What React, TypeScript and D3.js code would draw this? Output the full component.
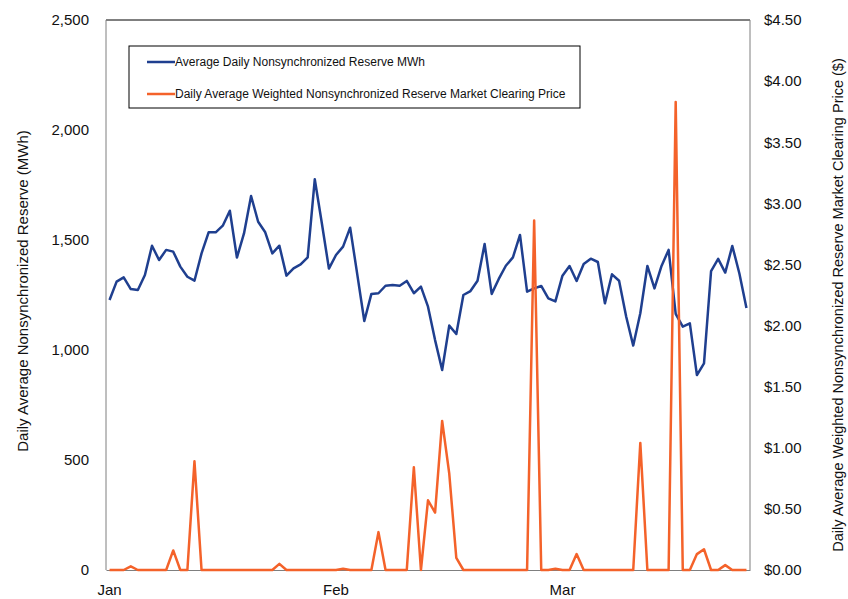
import { useEffect, useRef } from "react";
import * as d3 from "d3";

// Q1 of a leap year: Jan 1 .. Mar 31 (91 days)
const days = d3.timeDay.range(new Date(2020, 0, 1), new Date(2020, 3, 1));

// Average daily nonsynchronized reserve (MWh), one value per day
const reserveMWh = [
  1227, 1311, 1330, 1277, 1273, 1341, 1474, 1409, 1455, 1447,
  1379, 1333, 1315, 1439, 1535, 1535, 1565, 1633, 1420, 1530,
  1700, 1583, 1535, 1439, 1474, 1338, 1371, 1389, 1421, 1776,
  1576, 1370, 1432, 1470, 1556, 1345, 1132, 1255, 1258, 1292,
  1295, 1292, 1314, 1258, 1288, 1197, 1045, 909, 1111, 1073,
  1250, 1268, 1315, 1482, 1255, 1323, 1383, 1421, 1523, 1265,
  1280, 1291, 1235, 1221, 1338, 1382, 1314, 1391, 1415, 1400,
  1212, 1344, 1315, 1152, 1020, 1167, 1382, 1280, 1382, 1455,
  1164, 1106, 1121, 886, 939, 1359, 1414, 1352, 1473, 1348,
  1191,
];

// Daily average weighted market clearing price ($)
const clearingPrice = [
  0, 0, 0, 0.03, 0, 0, 0, 0, 0, 0.16,
  0, 0, 0.89, 0, 0, 0, 0, 0, 0, 0,
  0, 0, 0, 0, 0.05, 0, 0, 0, 0, 0,
  0, 0, 0, 0.01, 0, 0, 0, 0, 0.31, 0,
  0, 0, 0, 0.84, 0, 0.57, 0.47, 1.22, 0.79, 0.1,
  0, 0, 0, 0, 0, 0, 0, 0, 0, 0,
  2.86, 0, 0, 0.01, 0, 0, 0.13, 0, 0, 0,
  0, 0, 0, 0, 0, 1.04, 0, 0, 0, 0,
  3.83, 0, 0, 0.13, 0.17, 0, 0, 0.04, 0, 0,
  0,
];

// category-axis labels appear every 32 days
const xTickIndex = [0, 32, 64];
const leftTicks = [0, 500, 1000, 1500, 2000, 2500];
const rightTicks = [0, 0.5, 1, 1.5, 2, 2.5, 3, 3.5, 4, 4.5];

const seriesNames = [
  "Average Daily Nonsynchronized Reserve MWh",
  "Daily Average Weighted Nonsynchronized Reserve Market Clearing Price",
];
const leftTitle = "Daily Average Nonsynchronized Reserve (MWh)";
const rightTitle =
  "Daily Average Weighted Nonsynchronized Reserve Market Clearing Price ($)";

const BLUE = "#1f3f8f";
const ORANGE = "#f4622a";
const FONT = "'Liberation Sans', Arial, sans-serif";

const ReserveChart = () => {
  const svgRef = useRef<SVGSVGElement | null>(null);

  useEffect(() => {
    const svg = d3.select(svgRef.current);
    svg.selectAll("*").remove();

    const width = 848;
    const height = 599;
    const margin = { top: 20, right: 98, bottom: 29, left: 106 };
    const x0 = margin.left;
    const x1 = width - margin.right;
    const y0 = height - margin.bottom;
    const y1 = margin.top;

    svg.attr("viewBox", `0 0 ${width} ${height}`);
    svg
      .append("rect")
      .attr("width", width)
      .attr("height", height)
      .attr("fill", "#fff");

    const xScale = d3
      .scaleBand<number>()
      .domain(days.map((_, i) => i))
      .range([x0, x1]);
    const xMid = (i: number) => (xScale(i) ?? 0) + xScale.bandwidth() / 2;

    const yLeft = d3.scaleLinear().domain([0, 2500]).range([y0, y1]);
    const yRight = d3.scaleLinear().domain([0, 4.5]).range([y0, y1]);

    // frame
    g_line(svg, x0, y1, x1, y1, "#000");
    g_line(svg, x0, y1, x0, y0, "#7f7f7f");
    g_line(svg, x1, y1, x1, y0, "#7f7f7f");

    const fmtMonth = d3.timeFormat("%b");
    const xAxis = d3
      .axisBottom(xScale)
      .tickValues(xTickIndex)
      .tickSize(0)
      .tickPadding(14)
      .tickFormat((i) => fmtMonth(days[i as number]));
    svg
      .append("g")
      .attr("transform", `translate(0,${y0})`)
      .call(xAxis)
      .call((g) => g.select(".domain").attr("stroke", "#7f7f7f"))
      .selectAll("text")
      .attr("font-family", FONT)
      .attr("font-size", 15)
      .attr("fill", "#111");

    const leftAxis = d3
      .axisLeft(yLeft)
      .tickValues(leftTicks)
      .tickSize(0)
      .tickPadding(17)
      .tickFormat((d) => d3.format(",")(d as number));
    svg
      .append("g")
      .attr("transform", `translate(${x0},0)`)
      .call(leftAxis)
      .call((g) => g.select(".domain").remove())
      .selectAll("text")
      .attr("font-family", FONT)
      .attr("font-size", 15)
      .attr("fill", "#111");

    const rightAxis = d3
      .axisRight(yRight)
      .tickValues(rightTicks)
      .tickSize(0)
      .tickPadding(14)
      .tickFormat((d) => d3.format("$.2f")(d as number));
    svg
      .append("g")
      .attr("transform", `translate(${x1},0)`)
      .call(rightAxis)
      .call((g) => g.select(".domain").remove())
      .selectAll("text")
      .attr("font-family", FONT)
      .attr("font-size", 15)
      .attr("fill", "#111");

    // axis titles
    svg
      .append("text")
      .attr("transform", `translate(23,${(y0 + y1) / 2 - 4}) rotate(-90)`)
      .attr("text-anchor", "middle")
      .attr("dy", "0.35em")
      .attr("font-family", FONT)
      .attr("font-size", 15)
      .attr("fill", "#111")
      .text(leftTitle);
    svg
      .append("text")
      .attr("transform", `translate(838,${(y0 + y1) / 2 + 10}) rotate(-90)`)
      .attr("text-anchor", "middle")
      .attr("dy", "0.35em")
      .attr("font-family", FONT)
      .attr("font-size", 14.5)
      .attr("fill", "#111")
      .text(rightTitle);

    const lineLeft = d3
      .line<number>()
      .x((_, i) => xMid(i))
      .y((d) => yLeft(d));
    const lineRight = d3
      .line<number>()
      .x((_, i) => xMid(i))
      .y((d) => yRight(d));

    svg
      .append("path")
      .datum(reserveMWh)
      .attr("fill", "none")
      .attr("stroke", BLUE)
      .attr("stroke-width", 2.5)
      .attr("stroke-linejoin", "round")
      .attr("d", lineLeft);

    svg
      .append("path")
      .datum(clearingPrice)
      .attr("fill", "none")
      .attr("stroke", ORANGE)
      .attr("stroke-width", 2.5)
      .attr("stroke-linejoin", "round")
      .attr("d", lineRight);

    // legend
    const legend = svg.append("g").attr("transform", "translate(129,46)");
    legend
      .append("rect")
      .attr("width", 451)
      .attr("height", 62)
      .attr("fill", "#fff")
      .attr("stroke", "#000")
      .attr("stroke-width", 1);
    [BLUE, ORANGE].forEach((c, k) => {
      const ly = 16 + k * 32;
      legend
        .append("line")
        .attr("x1", 18)
        .attr("x2", 46)
        .attr("y1", ly)
        .attr("y2", ly)
        .attr("stroke", c)
        .attr("stroke-width", 2.5);
      legend
        .append("text")
        .attr("x", 46)
        .attr("y", ly)
        .attr("dy", "0.35em")
        .attr("font-family", FONT)
        .attr("font-size", 12)
        .attr("fill", "#111")
        .text(seriesNames[k]);
    });
  }, []);

  return (
    <svg
      ref={svgRef}
      role="img"
      aria-label="Nonsynchronized reserve chart"
      width={848}
      height={599}
      style={{ position: "absolute", left: 0, top: 0 }}
    />
  );
};

function g_line(
  svg: d3.Selection<SVGSVGElement | null, unknown, null, undefined>,
  xa: number,
  ya: number,
  xb: number,
  yb: number,
  color: string
) {
  svg
    .append("line")
    .attr("x1", xa)
    .attr("y1", ya)
    .attr("x2", xb)
    .attr("y2", yb)
    .attr("stroke", color)
    .attr("stroke-width", 1);
}

export default function App() {
  return <ReserveChart />;
}
